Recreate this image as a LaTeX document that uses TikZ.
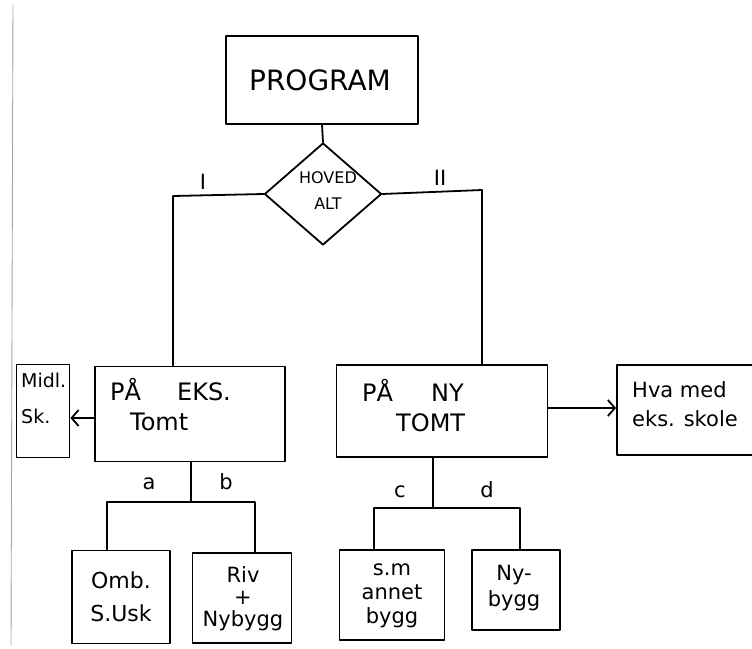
\documentclass[tikz,border=0pt]{standalone}
\usepackage{fontspec}
\setmainfont{DejaVu Sans}
\usetikzlibrary{shapes.geometric,arrows.meta}

\tikzset{
  box/.style={draw, line width=1.8pt, rectangle, inner sep=0pt},
  altbox/.style={draw, line width=1.8pt, diamond, inner sep=0pt,
                 minimum width=117pt, minimum height=102pt},
  wire/.style={line width=1.8pt},
  pointer/.style={line width=1.8pt, -{Straight Barb[length=7pt,width=16pt,line width=1.8pt]}},
  title/.style={inner sep=0pt, anchor=west, font=\fontsize{24}{26}\selectfont},
  txt/.style={inner sep=0pt, align=center, font=\fontsize{21}{24}\selectfont},
  tag/.style={inner sep=0pt, font=\fontsize{21}{24}\selectfont},
}

\begin{document}
\begin{tikzpicture}[x=1pt, y=-1pt, line cap=round, line join=round]
  \path[use as bounding box, clip] (0,0) rectangle (752,648);
  \fill[white] (0,0) rectangle (752,648);

  % sheet edge on the left
  \coordinate (edgeTop) at (13,5);
  \coordinate (edgeBot) at (11,645);
  \draw[gray!70, line width=0.9pt] (edgeTop) -- (edgeBot);

  % top level
  \node[box, minimum width=192pt, minimum height=88pt] (prog) at (322,80) {};
  \node[inner sep=0pt, font=\fontsize{28}{32}\selectfont] (progT) at (320,80) {PROGRAM};

  \node[altbox] (alt) at (323,194) {};
  \node[inner sep=0pt, align=center, font=\fontsize{16}{26}\selectfont] (altT) at (328,191) {HOVED\\ALT};

  % main alternatives
  \node[box, minimum width=190pt, minimum height=95pt] (eks) at (190,414) {};
  \node[title] (eksA) at (110,390) {PÅ\hspace{36pt}EKS.};
  \node[title] (eksB) at (130,422) {Tomt};

  \node[box, minimum width=211pt, minimum height=92pt] (ny) at (442,411) {};
  \node[title] (nyA) at (362,390) {PÅ\hspace{38pt}NY};
  \node[title] (nyB) at (396,423) {TOMT};

  \node[box, minimum width=53pt, minimum height=93pt] (midl) at (43,411) {};
  \node[inner sep=0pt, anchor=north west, align=left, font=\fontsize{19}{36}\selectfont] (midlT) at (21,373) {Midl.\\Sk.};

  \node[box, minimum width=150pt, minimum height=90pt] (hva) at (692,410) {};
  \node[inner sep=0pt, align=left, anchor=north west, font=\fontsize{21}{29}\selectfont] (hvaT) at (632,381) {Hva med\\eks. skole};

  % sub alternatives
  \node[box, minimum width=98pt, minimum height=93pt] (omb) at (121,597) {};
  \node[txt, font=\fontsize{22}{33}\selectfont] (ombT) at (121,597) {Omb.\\S.Usk};

  \node[box, minimum width=99pt, minimum height=90pt] (riv) at (242,598) {};
  \node[txt, font=\fontsize{21}{22}\selectfont] (rivT) at (243,599) {Riv\\+\\Nybygg};

  \node[box, minimum width=105pt, minimum height=90pt] (smb) at (392,595) {};
  \node[txt, font=\fontsize{21}{24}\selectfont] (smbT) at (392,596) {s.m\\annet\\bygg};

  \node[box, minimum width=88pt, minimum height=80pt] (nyb) at (516,590) {};
  \node[txt, font=\fontsize{21}{26}\selectfont] (nybT) at (514,588) {Ny-\\bygg};

  % program to choice
  \draw[wire] (prog.south) -- (alt.north);

  % branch I and II
  \coordinate (kI) at (173,196);
  \coordinate (kII) at (482,190);
  \draw[wire] (alt.west) -- (kI) -- (kI |- eks.north);
  \draw[wire] (alt.east) -- (kII) -- (kII |- ny.north);
  \node[tag] (lI) at (203,182) {I};
  \node[tag] (lII) at (440,178) {II};

  % side arrows
  \draw[pointer] (eks.west |- 0,418) -- (midl.east |- 0,418);
  \draw[pointer] (ny.east |- 0,408) -- (hva.west |- 0,408);

  % split a / b
  \coordinate (jab) at (191,502);
  \coordinate (ja) at (107,502);
  \coordinate (jb) at (255,502);
  \draw[wire] (eks.south -| jab) -- (jab);
  \draw[wire] (ja |- omb.north) -- (ja) -- (jb) -- (jb |- riv.north);
  \node[tag] (la) at (149,484) {a};
  \node[tag] (lb) at (226,482) {b};

  % split c / d
  \coordinate (jcd) at (433,508);
  \coordinate (jc) at (374,508);
  \coordinate (jd) at (520,508);
  \draw[wire] (ny.south -| jcd) -- (jcd);
  \draw[wire] (jc |- smb.north) -- (jc) -- (jd) -- (jd |- nyb.north);
  \node[tag] (lc) at (400,492) {c};
  \node[tag] (ld) at (487,490) {d};
\end{tikzpicture}
\end{document}
